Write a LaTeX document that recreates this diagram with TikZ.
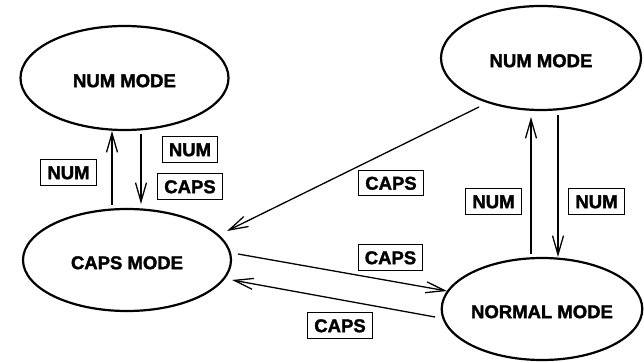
\documentclass[tikz,border=0pt]{standalone}
\usepackage{fontspec}
\setmainfont{Liberation Sans}[BoldFeatures={FakeBold=1.8}]
\usetikzlibrary{shapes.geometric,arrows.meta,calc}
\begin{document}
\begin{tikzpicture}[x=1pt,y=-1pt,
  font=\fontsize{18.5}{20}\selectfont\bfseries,
  mode/.style={ellipse,draw,line width=2.2pt,inner sep=0pt,text height=18.3pt,text depth=0pt},
  key/.style={rectangle,draw,line width=1.1pt,inner xsep=6.5pt,inner ysep=6pt,text height=13.3pt,text depth=0pt},
  conn/.style={line width=1.3pt,-{Straight Barb[length=19pt,width=11pt,line width=1.3pt]}}]
\useasboundingbox (0,0) rectangle (644,363);
\node[mode,minimum width=208pt,minimum height=104pt] (nl) at (124.5,78) {NUM MODE};
\node[mode,minimum width=200pt,minimum height=104pt] (nr) at (541,58) {NUM MODE};
\node[mode,minimum width=208pt,minimum height=102pt] (cm) at (127,260) {CAPS MODE};
\node[mode,minimum width=200pt,minimum height=102pt] (nm) at (542,309) {NORMAL MODE};
% labels
\node[key] (k1) at (68.5,172.5) {NUM};
\node[key] (k2) at (190,149.5) {NUM};
\node[key] (k3) at (190,186.5) {CAPS};
\node[key] (k4) at (391,183) {CAPS};
\node[key] (k5) at (390.5,257.5) {CAPS};
\node[key] (k6) at (340,325.5) {CAPS};
\node[key] (k7) at (493.5,201.5) {NUM};
\node[key] (k8) at (596.5,201.5) {NUM};
% connectors
\draw[conn] ($(cm.center)+(-15,-55)$) -- ($(nl.center)+(-12.5,53)$);
\draw[conn] ($(nl.center)+(16.5,56)$) -- ($(cm.center)+(14,-56)$);
\draw[conn] ($(nr.center)+(-62,49)$) -- ($(cm.center)+(100,-29)$);
\draw[conn] ($(cm.center)+(111,-6)$) -- ($(nm.center)+(-95,-18)$);
\draw[conn] ($(nm.center)+(-107,8)$) -- ($(cm.center)+(105,20)$);
\draw[conn] ($(nm.center)+(-11,-55)$) -- ($(nr.center)+(-10,59)$);
\draw[conn] ($(nr.center)+(17,57)$) -- ($(nm.center)+(16,-52)$);
\end{tikzpicture}
\end{document}
